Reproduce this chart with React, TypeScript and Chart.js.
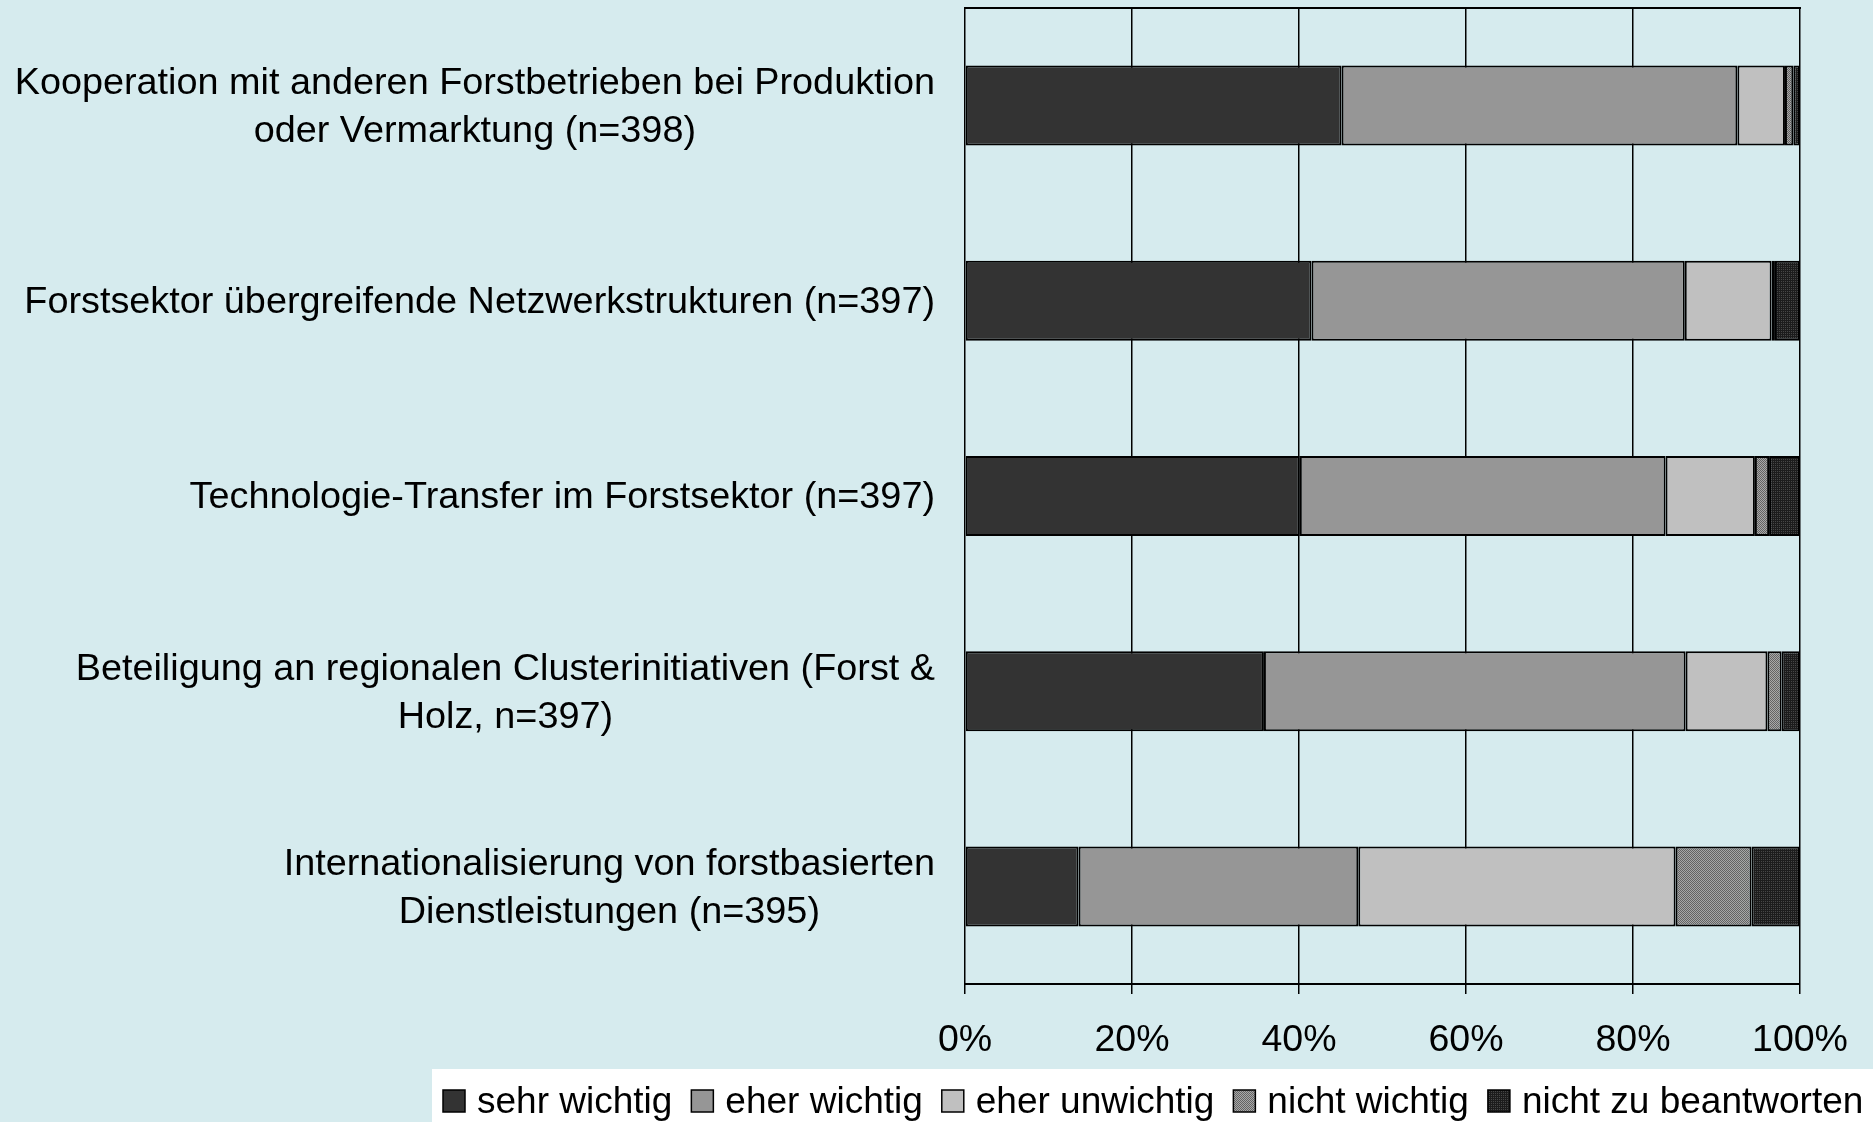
import React, { useEffect, useRef } from 'react';
import { Chart, registerables } from 'chart.js';

Chart.register(...registerables);

// ---- data ----
const categories: string[][] = [
  ['Kooperation mit anderen Forstbetrieben bei Produktion', 'oder Vermarktung (n=398)'],
  ['Forstsektor übergreifende Netzwerkstrukturen (n=397)'],
  ['Technologie-Transfer im Forstsektor (n=397)'],
  ['Beteiligung an regionalen Clusterinitiativen (Forst &', 'Holz, n=397)'],
  ['Internationalisierung von forstbasierten', 'Dienstleistungen (n=395)'],
];
const seriesNames = ['sehr wichtig', 'eher wichtig', 'eher unwichtig', 'nicht wichtig', 'nicht zu beantworten'];
const sehrWichtig = [45.1, 41.5, 40.1, 35.8, 13.6];
const eherWichtig = [47.4, 44.7, 43.8, 50.5, 33.5];
const eherUnwichtig = [5.7, 10.4, 10.7, 9.8, 38.0];
const nichtWichtig = [1.0, 0.4, 1.7, 1.7, 9.1];
const nichtZuBeantworten = [0.8, 3.0, 3.7, 2.2, 5.8];
const xTickValues = [0, 20, 40, 60, 80, 100];

const FONT = '"Liberation Sans", Arial, sans-serif';
const FS = 37.8;
const FS_TICK = 37.5;
const FS_LEGEND = 37;
const BG = '#d6ebee';

function makePattern(base: string, dot: string, cells: number[][]): CanvasPattern | string {
  const c = document.createElement('canvas');
  c.width = 4;
  c.height = 4;
  const g = c.getContext('2d');
  if (!g) return base;
  g.fillStyle = base;
  g.fillRect(0, 0, 4, 4);
  g.fillStyle = dot;
  cells.forEach(([x, y]) => g.fillRect(x, y, 1, 1));
  return g.createPattern(c, 'repeat') || base;
}

export default function App() {
  const ref = useRef<HTMLCanvasElement | null>(null);

  useEffect(() => {
    if (!ref.current) return;
    const checker = [
      [0, 0], [2, 0], [1, 1], [3, 1], [0, 2], [2, 2], [1, 3], [3, 3],
    ];
    const grid = [
      [1, 1], [3, 1], [1, 3], [3, 3],
    ];
    const patNW = makePattern('#a8a8a8', '#646464', checker);
    const patNZ = makePattern('#1c1c1c', '#464646', grid);
    const fills: (string | CanvasPattern)[] = ['#333333', '#969696', '#c0c0c0', patNW, patNZ];
    const values = [sehrWichtig, eherWichtig, eherUnwichtig, nichtWichtig, nichtZuBeantworten];

    const labelPlugin = {
      id: 'catLabels',
      afterDraw(chart: any) {
        const ctx: CanvasRenderingContext2D = chart.ctx;
        const yScale = chart.scales.y;
        const right = chart.chartArea.left - 30;
        const lineH = 48;
        ctx.save();
        ctx.font = `${FS}px ${FONT}`;
        ctx.fillStyle = '#000';
        ctx.textAlign = 'center';
        ctx.textBaseline = 'middle';
        categories.forEach((lines, i) => {
          const cy = yScale.getPixelForValue(i) + 2;
          const w = Math.max(...lines.map((l) => ctx.measureText(l).width));
          const cx = right - w / 2;
          const y0 = cy - ((lines.length - 1) * lineH) / 2;
          lines.forEach((l, j) => ctx.fillText(l, cx, y0 + j * lineH));
        });

        // legend
        const boxX = 432;
        const boxY = 1069;
        ctx.font = `${FS_LEGEND}px ${FONT}`;
        ctx.fillStyle = '#ffffff';
        ctx.fillRect(boxX, boxY, chart.width - boxX, chart.height - boxY);
        let x = 443;
        const cyL = 1101;
        const sw = 22;
        ctx.textAlign = 'left';
        seriesNames.forEach((name, i) => {
          ctx.fillStyle = fills[i] as any;
          ctx.fillRect(x, cyL - sw / 2, sw, sw);
          ctx.strokeStyle = '#000';
          ctx.lineWidth = 1.5;
          ctx.strokeRect(x, cyL - sw / 2, sw, sw);
          ctx.fillStyle = '#000';
          const tx = x + sw + 12;
          ctx.fillText(name, tx, cyL + 2);
          x = tx + ctx.measureText(name).width + 19;
        });
        ctx.restore();
      },
    };

    const chart = new Chart(ref.current, {
      type: 'bar',
      data: {
        labels: categories.map((c) => c.join(' ')),
        datasets: seriesNames.map((name, i) => ({
          label: name,
          data: values[i],
          backgroundColor: fills[i] as any,
          borderColor: '#000000',
          borderWidth: 2,
          borderSkipped: false,
          barPercentage: 0.82,
          categoryPercentage: 0.5,
        })),
      },
      options: {
        indexAxis: 'y',
        responsive: false,
        animation: false,
        devicePixelRatio: 1,
        layout: { padding: { left: 965, right: 73, top: 8, bottom: 35 } },
        plugins: {
          legend: { display: false },
          tooltip: { enabled: false },
        },
        scales: {
          x: {
            type: 'linear',
            stacked: true,
            min: 0,
            max: 100,
            afterBuildTicks: (scale: any) => {
              scale.ticks = xTickValues.map((v) => ({ value: v }));
            },
            ticks: {
              callback: (v: any) => `${v}%`,
              color: '#000',
              font: { family: FONT, size: FS_TICK },
              padding: 24,
              maxRotation: 0,
              autoSkip: false,
            },
            grid: {
              color: '#000',
              lineWidth: 1.5,
              drawTicks: true,
              tickLength: 10,
              tickColor: '#000',
              tickWidth: 1.5,
            },
            border: { display: true, color: '#000', width: 2 },
          },
          x2: {
            type: 'linear',
            position: 'top',
            min: 0,
            max: 100,
            display: true,
            ticks: { display: false },
            grid: { display: false, drawTicks: false },
            border: { display: true, color: '#000', width: 2 },
          },
          y: {
            type: 'category',
            stacked: true,
            display: false,
          },
        },
      },
      plugins: [labelPlugin],
    } as any);

    return () => chart.destroy();
  }, []);

  return (
    <div style={{ position: 'absolute', left: 0, top: 0, width: 1873, height: 1122, background: BG }}>
      <canvas ref={ref} width={1873} height={1122} style={{ display: 'block' }} />
    </div>
  );
}
